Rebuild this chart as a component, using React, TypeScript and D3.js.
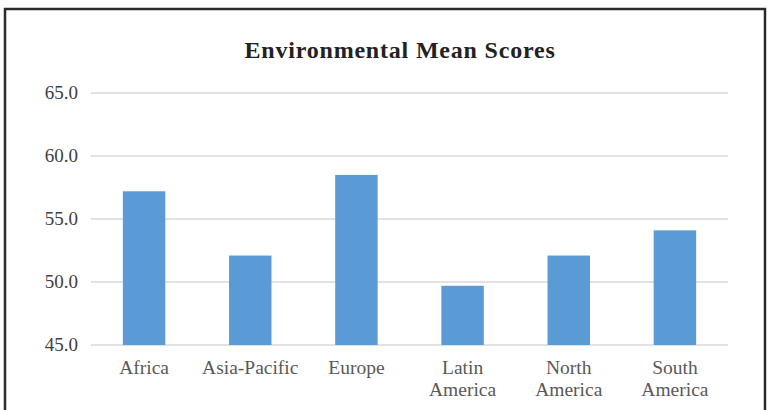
import { useEffect, useRef } from "react";
import * as d3 from "d3";

const regions = ["Africa", "Asia-Pacific", "Europe", "Latin America", "North America", "South America"];
const labelLines = [["Africa"], ["Asia-Pacific"], ["Europe"], ["Latin", "America"], ["North", "America"], ["South", "America"]];
const meanScores = [57.2, 52.1, 58.5, 49.7, 52.1, 54.1];
const yTicks = [45, 50, 55, 60, 65];

export default function App() {
  const ref = useRef<SVGSVGElement>(null);
  const width = 767;
  const height = 410;

  useEffect(() => {
    const svg = d3.select(ref.current);
    svg.selectAll("*").remove();

    const x = d3
      .scaleBand()
      .domain(regions)
      .range([91, 728])
      .paddingInner(0.6)
      .paddingOuter(0.3);

    const y = d3.scaleLinear().domain([45, 65]).range([345, 93]);

    // frame (bottom edge is cut off in the original)
    svg
      .append("path")
      .attr("d", "M5,410 V9 H765 V410")
      .attr("fill", "none")
      .attr("stroke", "#2b2b2b")
      .attr("stroke-width", 2.5);

    svg
      .append("text")
      .attr("x", 400)
      .attr("y", 58)
      .attr("text-anchor", "middle")
      .attr("font-family", "Liberation Serif, serif")
      .attr("font-weight", "bold")
      .attr("font-size", 24)
      .attr("letter-spacing", 0.8)
      .attr("fill", "#222")
      .text("Environmental Mean Scores");

    svg
      .append("g")
      .selectAll("line")
      .data(yTicks)
      .join("line")
      .attr("x1", 91)
      .attr("x2", 728)
      .attr("y1", (d) => y(d))
      .attr("y2", (d) => y(d))
      .attr("stroke", "#d9d9d9")
      .attr("stroke-width", 1.5);

    svg
      .append("g")
      .selectAll("text")
      .data(yTicks)
      .join("text")
      .attr("x", 78)
      .attr("y", (d) => y(d) + 6)
      .attr("text-anchor", "end")
      .attr("font-family", "Liberation Serif, serif")
      .attr("font-size", 19)
      .attr("fill", "#404040")
      .text((d) => d.toFixed(1));

    svg
      .append("g")
      .selectAll("rect")
      .data(meanScores)
      .join("rect")
      .attr("x", (_, i) => x(regions[i]) ?? 0)
      .attr("y", (d) => y(d))
      .attr("width", x.bandwidth())
      .attr("height", (d) => y(45) - y(d))
      .attr("fill", "#5b9bd5");

    const labels = svg
      .append("g")
      .selectAll("text")
      .data(labelLines)
      .join("text")
      .attr("x", (_, i) => (x(regions[i]) ?? 0) + x.bandwidth() / 2)
      .attr("y", 374)
      .attr("text-anchor", "middle")
      .attr("font-family", "Liberation Serif, serif")
      .attr("font-size", 19.5)
      .attr("fill", "#595959");

    labels
      .selectAll("tspan")
      .data((d) => d)
      .join("tspan")
      .attr("x", function () {
        return (this.parentNode as SVGTextElement).getAttribute("x");
      })
      .attr("dy", (_, j) => (j === 0 ? 0 : 22))
      .text((d) => d);
  }, []);

  return (
    <svg
      ref={ref}
      width={width}
      height={height}
      style={{ position: "absolute", left: 0, top: 0, background: "#fff" }}
    />
  );
}
